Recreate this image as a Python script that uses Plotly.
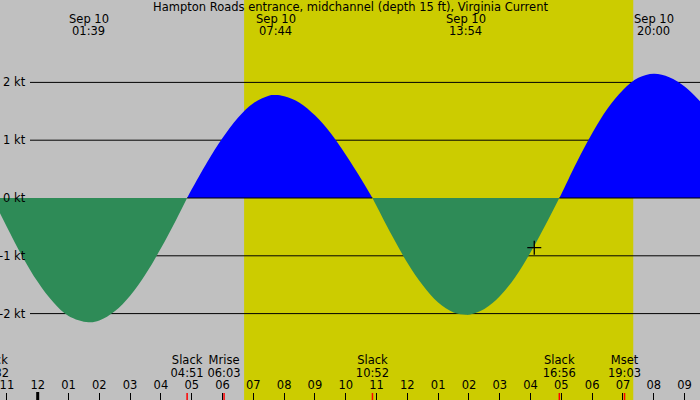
import plotly.graph_objects as go

# current samples (hours from Sep 10 00:00, knots), one list pair per ebb/flood
ebb1_h = [-1.47, -1.0, -0.5, 0.0, 0.5, 1.0, 1.65, 2.0, 2.5, 3.0, 3.5, 4.0, 4.5, 4.85]
ebb1_kt = [0, -0.50, -1.01, -1.45, -1.80, -2.04, -2.15, -2.12, -1.96, -1.69, -1.32, -0.87, -0.37, 0]
flood1_h = [4.85, 5.0, 5.5, 6.0, 6.5, 7.0, 7.5, 7.733, 8.0, 8.5, 9.0, 9.5, 10.0, 10.5, 10.867]
flood1_kt = [0, 0.15, 0.62, 1.04, 1.39, 1.64, 1.77, 1.78, 1.76, 1.65, 1.43, 1.13, 0.75, 0.33, 0]
ebb2_h = [10.867, 11.0, 11.5, 12.0, 12.5, 13.0, 13.5, 13.9, 14.0, 14.5, 15.0, 15.5, 16.0, 16.5, 16.933]
ebb2_kt = [0, -0.14, -0.65, -1.12, -1.51, -1.81, -1.98, -2.02, -2.02, -1.92, -1.70, -1.37, -0.94, -0.45, 0]
flood2_h = [16.933, 17.0, 17.5, 18.0, 18.5, 19.0, 19.5, 20.0, 20.5, 21.0, 21.5]
flood2_kt = [0, 0.07, 0.62, 1.12, 1.55, 1.87, 2.08, 2.15, 2.09, 1.93, 1.675]

peak_times = ['01:39', '07:44', '13:54', '20:00']
event_names = ['Slack', 'Slack', 'Mrise', 'Slack', 'Slack', 'Mset']
event_times = ['22:32', '04:51', '06:03', '10:52', '16:56', '19:03']
event_days = [9, 10, 10, 10, 10, 10]
sunrise, sunset = '06:42', '19:20'
now_h, now_kt = 16.12, -0.86

hour_ticks = list(range(-1, 22))
hour_labels = ['11', '12', '01', '02', '03', '04', '05', '06', '07', '08', '09', '10', '11',
               '12', '01', '02', '03', '04', '05', '06', '07', '08', '09']
levels = [2, 1, 0, -1, -2]

title = 'Hampton Roads entrance, midchannel (depth 15 ft), Virginia Current'
FONT = dict(family='DejaVu Sans', size=11.5, color='black')
W, H = 700, 400
zero_px, px_per_kt = 198, 57.8


def hrs(t, day=10):
    h, m = t.split(':')
    return (day - 10) * 24 + int(h) + int(m) / 60


def ydata(p):
    return (zero_px - p) / px_per_kt


fig = go.Figure()
for xs, ys, col in [(ebb1_h, ebb1_kt, '#2E8B57'), (flood1_h, flood1_kt, '#0000FF'),
                    (ebb2_h, ebb2_kt, '#2E8B57'), (flood2_h, flood2_kt, '#0000FF')]:
    fig.add_trace(go.Scatter(x=xs, y=ys, mode='lines', fill='tozeroy', fillcolor=col,
                             line=dict(width=0, shape='spline'), hoverinfo='skip'))
    if col == '#0000FF':
        # the zero line shows through under the flood fill only
        fig.add_trace(go.Scatter(x=[xs[0], xs[-1]], y=[0, 0], mode='lines',
                                 line=dict(color='black', width=1), hoverinfo='skip'))

fig.add_trace(go.Scatter(x=[now_h], y=[now_kt], mode='markers',
                         marker=dict(symbol='cross-thin', size=10, line=dict(color='black', width=1.3))))

ev_x = [hrs(t, d) for t, d in zip(event_times, event_days)]
fig.add_trace(go.Scatter(x=ev_x, y=[ydata(361)] * len(ev_x), mode='text', text=event_names,
                         textfont=FONT, hoverinfo='skip'))
fig.add_trace(go.Scatter(x=ev_x, y=[ydata(374)] * len(ev_x), mode='text', text=event_times,
                         textfont=FONT, hoverinfo='skip'))
fig.add_trace(go.Scatter(x=hour_ticks, y=[ydata(386)] * len(hour_ticks), mode='text',
                         text=hour_labels, textfont=FONT, hoverinfo='skip'))

# daylight band and level lines
fig.add_shape(type='rect', xref='x', yref='paper', x0=hrs(sunrise), x1=hrs(sunset), y0=0, y1=1,
              fillcolor='#CCCC00', line_width=0, layer='below')
for lv in levels:
    if lv != 0:
        fig.add_shape(type='line', xref='paper', yref='y', x0=30 / W, x1=1, y0=lv, y1=lv,
                      line=dict(color='black', width=1), layer='below')
    fig.add_annotation(x=28 / W, xref='paper', y=lv, yref='y', text=f'{lv} kt', showarrow=False,
                       xanchor='right', yanchor='middle', font=FONT)

# midnight and event ticks
fig.add_shape(type='line', xref='x', yref='paper', x0=0, x1=0, y0=0, y1=8 / H,
              line=dict(color='black', width=3))
for x in ev_x:
    fig.add_shape(type='line', xref='x', yref='paper', x0=x, x1=x, y0=0, y1=7 / H,
                  line=dict(color='red', width=1.5))

for t in peak_times:
    fig.add_annotation(x=hrs(t), y=1 - 19 / H, xref='x', yref='paper', text='Sep 10',
                       showarrow=False, yanchor='middle', font=FONT)
    fig.add_annotation(x=hrs(t), y=1 - 31 / H, xref='x', yref='paper', text=t,
                       showarrow=False, yanchor='middle', font=FONT)
fig.add_annotation(x=0.5, y=1 - 7 / H, xref='paper', yref='paper', text=title,
                   showarrow=False, yanchor='middle', font=FONT)

fig.update_xaxes(range=[-1.224, 21.5], tickvals=hour_ticks, ticks='inside', ticklen=7,
                 tickcolor='black', tickwidth=1, showticklabels=False, showgrid=False,
                 zeroline=False, showline=False)
fig.update_yaxes(range=[ydata(H), ydata(0)], showticklabels=False, showgrid=False,
                 zeroline=False, showline=False)
fig.update_layout(width=W, height=H, margin=dict(l=0, r=0, t=0, b=0), showlegend=False,
                  paper_bgcolor='#C0C0C0', plot_bgcolor='#C0C0C0', font=FONT)
# page body has an 8px default margin; drop it so the figure fills the window
fig.write_html('out.html', config={'displayModeBar': False},
               post_script="document.body.style.margin='0';")
